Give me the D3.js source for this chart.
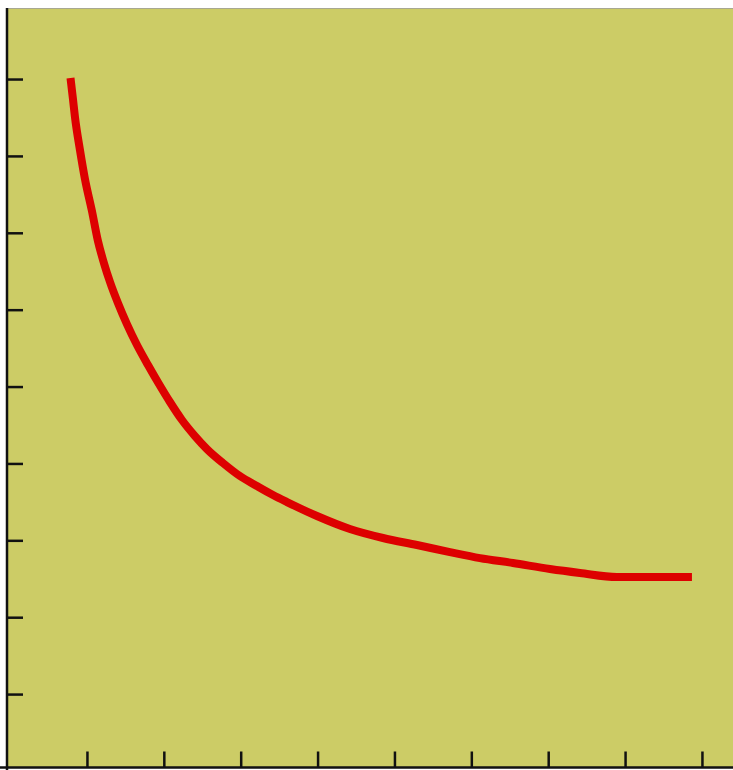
<!DOCTYPE html>
<html>
<head>
<meta charset="utf-8">
<script src="https://cdn.jsdelivr.net/npm/d3@7"></script>
<style>
  html, body { margin: 0; padding: 0; background: #ffffff; }
  svg { display: block; }
</style>
</head>
<body>
<script>
// Data
const xValues = [0.786, 0.818, 0.844, 0.909, 0.974, 1.065, 1.143, 1.221, 1.300, 1.403, 1.520, 1.651, 1.794, 1.937, 2.080, 2.236, 2.405, 2.561, 2.769, 2.990, 3.211, 3.420, 3.602, 3.992, 4.421, 4.851, 5.293, 5.722, 6.112, 6.541, 7.023, 7.413, 7.894, 8.870];
const yValues = [9.013, 8.740, 8.506, 8.077, 7.700, 7.283, 6.893, 6.607, 6.360, 6.087, 5.813, 5.540, 5.280, 5.033, 4.799, 4.565, 4.356, 4.187, 4.006, 3.836, 3.706, 3.589, 3.498, 3.316, 3.147, 3.030, 2.939, 2.847, 2.769, 2.705, 2.626, 2.575, 2.523, 2.523];
const xTicks = [1, 2, 3, 4, 5, 6, 7, 8, 9];
const yTicks = [1, 2, 3, 4, 5, 6, 7, 8, 9];

(function () {
  const W = 733, H = 770;
  const pl = 7, pr = 733, pt = 8, pb = 767.5;

  const svg = d3.select("body").append("svg").attr("width", W).attr("height", H);

  const x = d3.scaleLinear().domain([-0.04, 9.404]).range([pl, pr]);
  const y = d3.scaleLinear().domain([0.045, 9.924]).range([pb, pt]);

  // plot background
  svg.append("rect")
    .attr("x", pl).attr("y", pt)
    .attr("width", pr - pl).attr("height", pb - pt)
    .attr("fill", "#cccc66");
  svg.append("line")
    .attr("x1", pl).attr("x2", pr).attr("y1", pt + 0.5).attr("y2", pt + 0.5)
    .attr("stroke", "#a8a890").attr("stroke-width", 1);

  // line
  const pts = xValues.map((v, i) => [v, yValues[i]]);
  svg.append("path")
    .datum(pts)
    .attr("fill", "none")
    .attr("stroke", "#dd0000")
    .attr("stroke-width", 8)
    .attr("stroke-linecap", "butt")
    .attr("stroke-linejoin", "round")
    .attr("d", d3.line().curve(d3.curveMonotoneX).x(d => x(d[0])).y(d => y(d[1])));

  // axes (ticks point inward, no labels)
  const xAxis = d3.axisBottom(x).tickValues(xTicks).tickSize(-16).tickSizeOuter(0).tickFormat("");
  const yAxis = d3.axisLeft(y).tickValues(yTicks).tickSize(-16).tickSizeOuter(0).tickFormat("");

  const gx = svg.append("g").attr("transform", `translate(0,${pb})`).call(xAxis);
  const gy = svg.append("g").attr("transform", `translate(${pl},0)`).call(yAxis);

  [gx, gy].forEach(g => {
    g.selectAll("path.domain").attr("stroke", "#111").attr("stroke-width", 2.5);
    g.selectAll(".tick line").attr("stroke", "#111").attr("stroke-width", 2.5);
  });
  gy.select("path.domain").attr("d", `M0,${pt}V${H}`);
  gx.select("path.domain").attr("d", `M${-2},0H${W}`);
})();
</script>
</body>
</html>
